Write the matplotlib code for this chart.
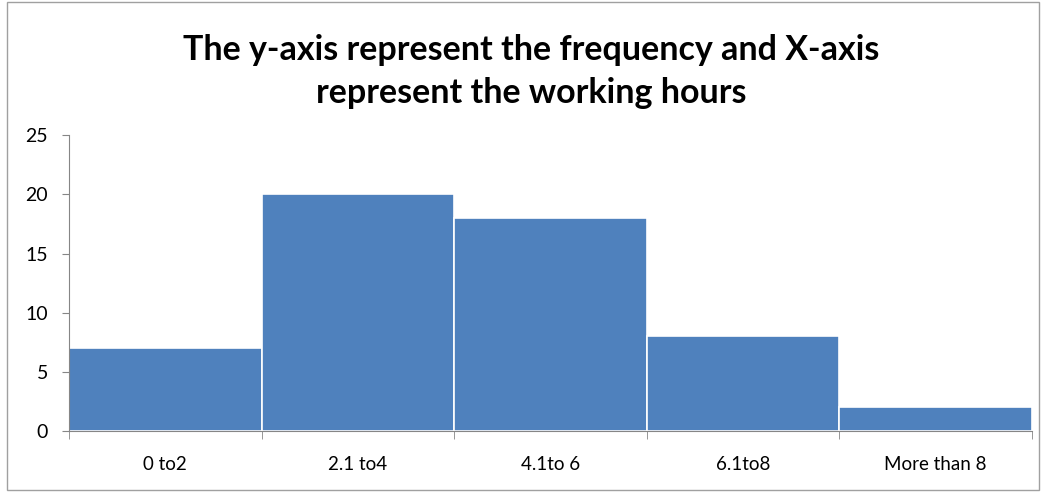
import matplotlib.pyplot as plt
import numpy as np
from matplotlib.patches import Rectangle

categories = ["0 to2", "2.1 to4", "4.1to 6", "6.1to8", "More than 8"]
frequency = [7, 20, 18, 8, 2]

C_BAR = "#4F81BD"
C_AXIS = "#868686"

plt.rcParams["font.family"] = ["Lato", "DejaVu Sans"]

fig = plt.figure(figsize=(10.42, 4.95), dpi=100, facecolor="white")
ax = fig.add_axes([0.0662, 0.129, 0.9238, 0.598])

x = np.arange(len(categories))
ax.bar(x, frequency, width=1.0, color=C_BAR, edgecolor="white", linewidth=1.2)

ax.set_xlim(-0.5, len(categories) - 0.5)
ax.set_ylim(0, 25)
ax.set_yticks(np.arange(0, 26, 5))
ax.set_xticks(x)
ax.set_xticklabels(categories, fontsize=13.5)
ax.tick_params(axis="x", length=0, pad=18)
# category boundary ticks
ax.set_xticks(np.arange(-0.5, len(categories), 1.0), minor=True)
ax.tick_params(axis="x", which="minor", length=6, color=C_AXIS, direction="out")
ax.tick_params(axis="y", length=5, color=C_AXIS, labelsize=14, pad=10)

for s in ["top", "right"]:
    ax.spines[s].set_visible(False)
ax.spines["left"].set_color(C_AXIS)
ax.spines["bottom"].set_color(C_AXIS)

fig.text(0.51, 0.898, "The y-axis represent the frequency and X-axis",
         ha="center", va="center", fontsize=24.5, fontweight="bold")
fig.text(0.51, 0.812, "represent the working hours",
         ha="center", va="center", fontsize=24.5, fontweight="bold")

# outer chart frame
fig.patches.append(Rectangle((0.007, 0.01), 0.99, 0.985, transform=fig.transFigure,
                             fill=False, edgecolor="#A0A0A0", linewidth=1.0))

fig.savefig("out.png", dpi=100, facecolor="white")
